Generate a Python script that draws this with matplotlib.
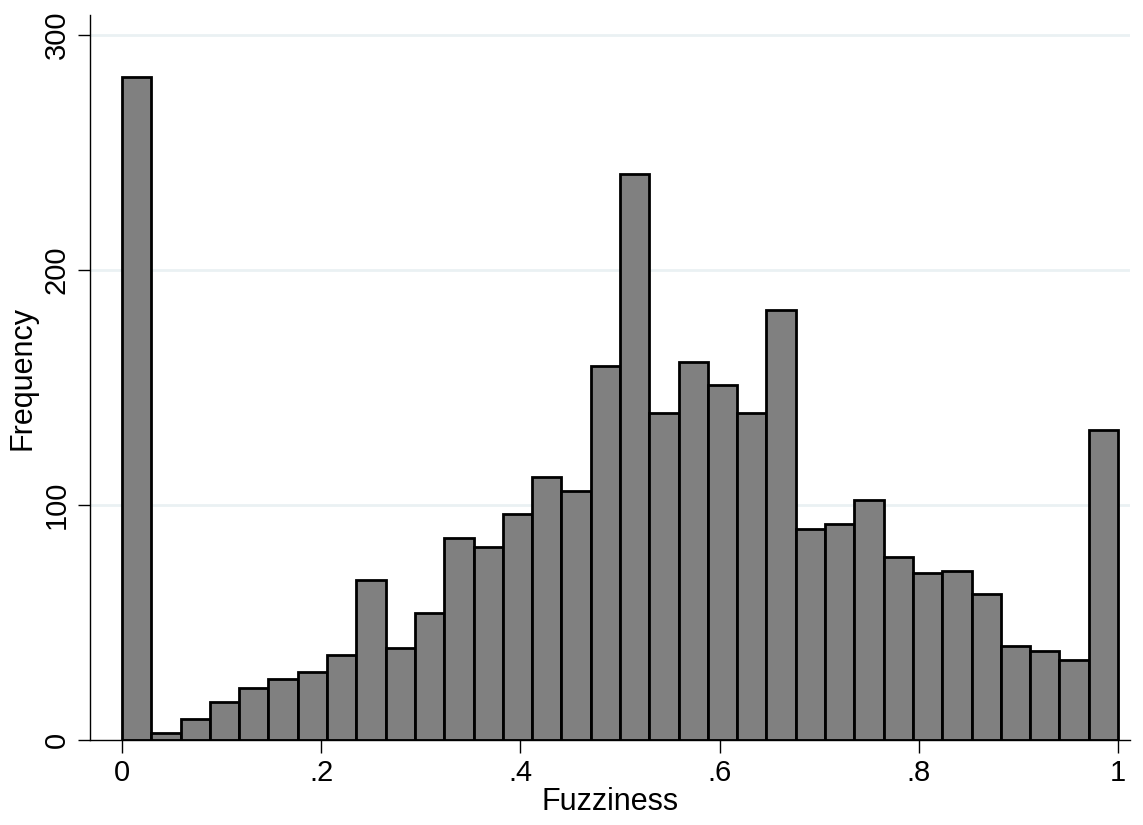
import numpy as np
import matplotlib
matplotlib.use("Agg")
import matplotlib.pyplot as plt

plt.rcParams['font.family'] = ['Liberation Sans', 'DejaVu Sans']

# histogram counts, 34 equal-width bins on [0, 1]
counts = [282, 3, 9, 16, 22, 26, 29, 36, 68, 39, 54, 86, 82, 96, 112, 106, 159,
          241, 139, 161, 151, 139, 183, 90, 92, 102, 78, 71, 72, 62, 40, 38, 34, 132]
x_ticks = [0, 0.2, 0.4, 0.6, 0.8, 1.0]
x_ticklabels = ["0", ".2", ".4", ".6", ".8", "1"]
y_ticks = [0, 100, 200, 300]
y_ticklabels = ["0", "100", "200", "300"]

edges = np.linspace(0, 1, len(counts) + 1)

fig = plt.figure(figsize=(11.43, 8.25), dpi=100)
ax = fig.add_axes([90 / 1143, 85 / 825, 1040 / 1143, 725 / 825])

for y in y_ticks[1:]:
    ax.axhline(y, color="#eaf1f3", lw=2, zorder=0)

ax.bar(edges[:-1], counts, width=np.diff(edges), align="edge",
       color="#808080", edgecolor="black", linewidth=2.0, zorder=2)

ax.set_xlim((90 - 122) / 996, (1130 - 122) / 996)
ax.set_ylim(0, 725 / 2.35)

ax.set_xticks(x_ticks)
ax.set_xticklabels(x_ticklabels, fontsize=21)
ax.set_yticks(y_ticks)
ax.set_yticklabels(y_ticklabels, fontsize=21, rotation=90, va="center")
ax.tick_params(axis="both", direction="out", length=9, width=1, color="black", pad=5)

for side in ["top", "right"]:
    ax.spines[side].set_visible(False)
for side in ["left", "bottom"]:
    ax.spines[side].set_linewidth(1)

ax.set_xlabel("Fuzziness", fontsize=22, labelpad=0)
ax.set_ylabel("Frequency", fontsize=22, labelpad=4)

fig.savefig("out.png", dpi=100)
